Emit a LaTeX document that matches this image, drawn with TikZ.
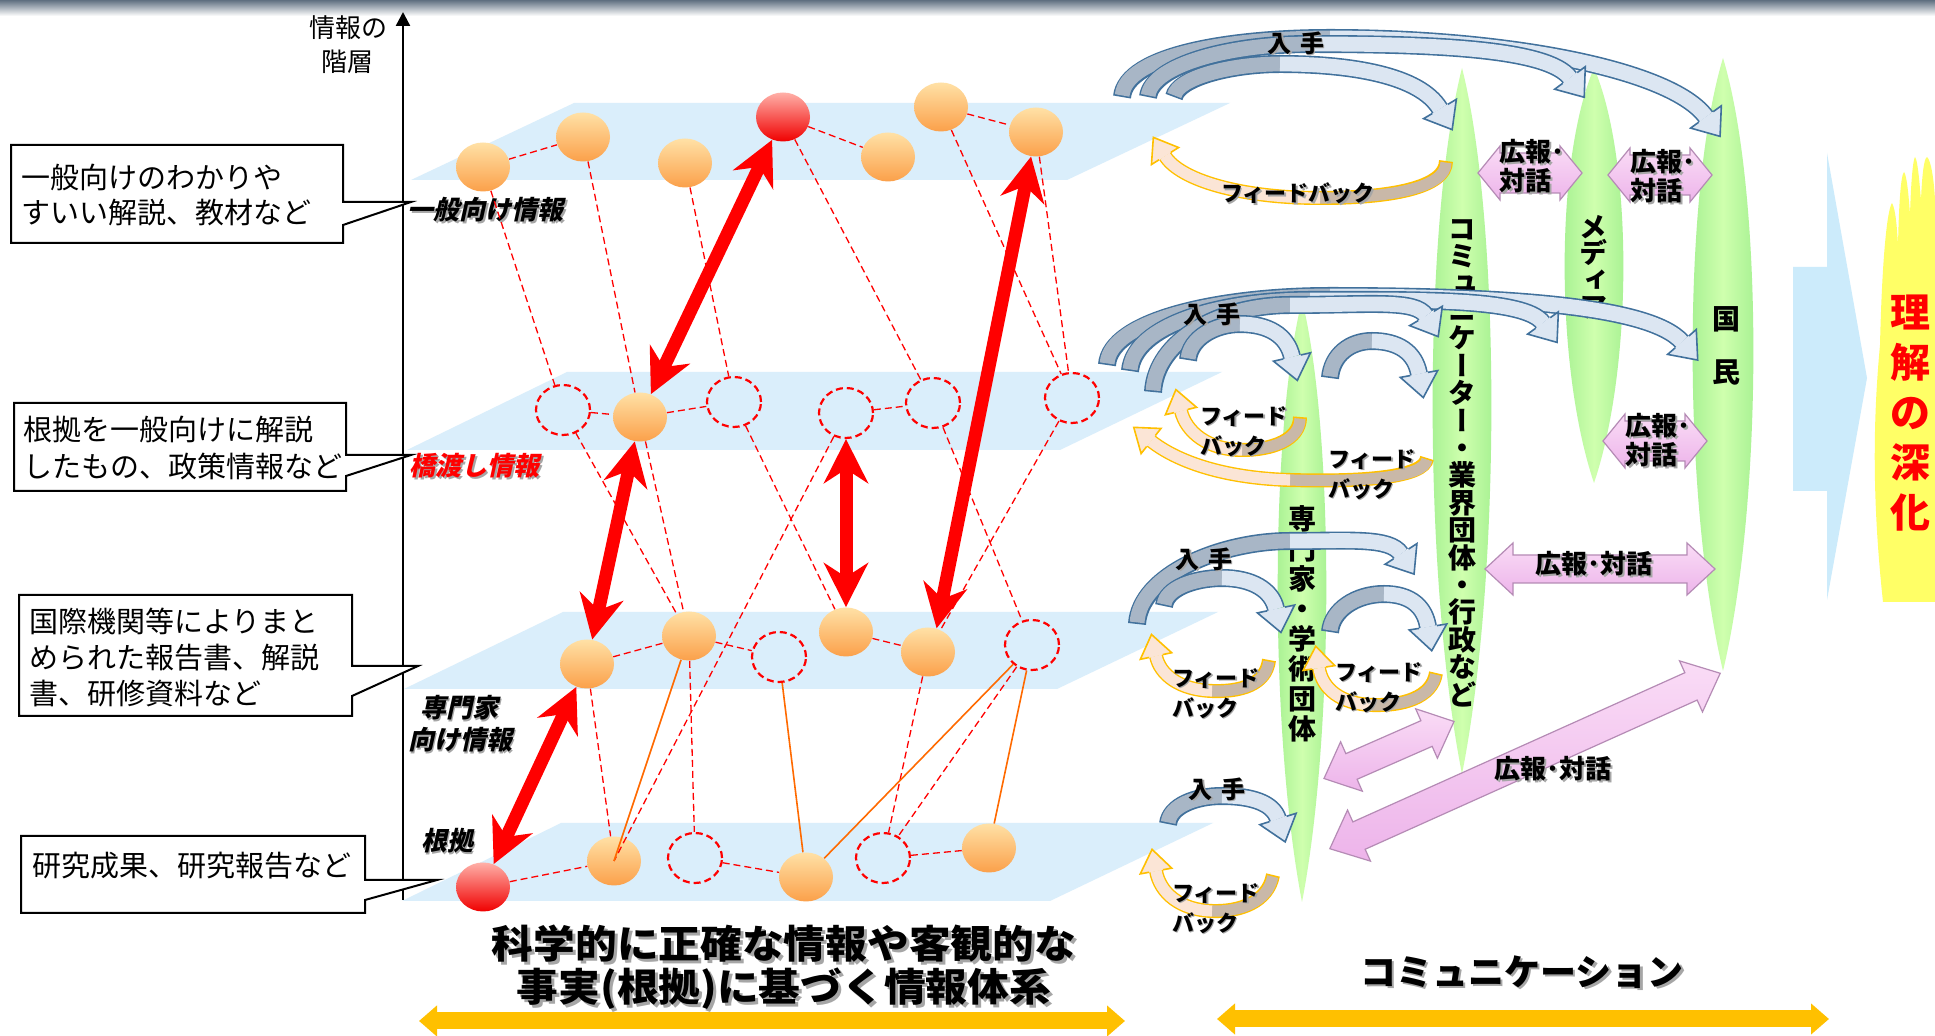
\documentclass[tikz,border=0pt]{standalone}
\usepackage{graphicx}
\usepackage{fontspec}
\setmainfont{Noto Sans CJK JP}
\newfontfamily\jpv[RawFeature=+vert]{Noto Sans CJK JP}
\newfontfamily\jpsl[FakeSlant=0.22]{Noto Sans CJK JP}
\usetikzlibrary{shapes.geometric,arrows.meta,decorations.markings}

\definecolor{topbar}{HTML}{5F6F80}
\definecolor{planeb}{HTML}{DAEEFB}
\definecolor{sphT}{HTML}{FFE1A6}
\definecolor{sphB}{HTML}{FBA04A}
\definecolor{rsphT}{HTML}{FFB0A8}
\definecolor{rsphB}{HTML}{F00000}
\definecolor{orl}{HTML}{FF6A00}
\definecolor{bline}{HTML}{41719C}
\definecolor{btail}{HTML}{A8B6C6}
\definecolor{bheadc}{HTML}{DCE6F2}
\definecolor{fline}{HTML}{FFC000}
\definecolor{ftail}{HTML}{C9B8A8}
\definecolor{fheadc}{HTML}{FBE5D6}
\definecolor{leafg}{HTML}{9EEE8C}
\definecolor{leafl}{HTML}{CFFFAE}
\definecolor{pinkT}{HTML}{FADCF6}
\definecolor{pinkB}{HTML}{EDB4EA}
\definecolor{pinkl}{HTML}{B58BB5}
\definecolor{bigb}{HTML}{CCEBFB}
\definecolor{flame}{HTML}{FFFF66}
\definecolor{gold}{HTML}{FFC000}

\newcommand\shd[1]{\leavevmode\rlap{\kern0.07em\raisebox{-0.07em}{\color{black!35}#1}}#1}
\newcommand\tightl{\lineskiplimit=-100pt\relax}

\newcommand\bhd{\fill[bheadc] (0,-19) -- (24,0) -- (0,19) -- cycle;
  \draw[bline, line width=0.8pt, line join=miter] (0,-9) -- (0,-19) -- (24,0) -- (0,19) -- (0,9);}
\newcommand\fhd{\fill[fheadc] (0,-16) -- (22,0) -- (0,16) -- cycle;
  \draw[fline, line width=0.8pt, line join=miter] (0,-7) -- (0,-16) -- (22,0) -- (0,16) -- (0,7);}

\newcommand\carr[8]{%
  \draw[#1outer, postaction={decorate, decoration={markings, mark=at position 0.9999 with {\csname #1hd\endcsname}}}] #2 .. controls #3 and #4 .. #5 .. controls #6 and #7 .. #8;
  \draw[#1inA, shorten <=0.8pt] #2 .. controls #3 and #4 .. #5;
  \draw[#1inB] #5 .. controls #6 and #7 .. #8;
}

\newcommand\leaf[4]{%
  \shade[left color=leafg, right color=leafg, middle color=leafl] (#1,#2) .. controls (#1+1.35*#4,#2+0.22*#3-0.22*#2) and (#1+1.35*#4,#3-0.28*#3+0.28*#2) .. (#1,#3) .. controls (#1-1.35*#4,#3-0.28*#3+0.28*#2) and (#1-1.35*#4,#2+0.22*#3-0.22*#2) .. cycle;}

\newcommand\dbl[6]{%
  \begin{scope}[shift={#1}, rotate=#2]
  \draw[pinkarr] (-#3,0) -- (-#3+#6,#5) -- (-#3+#6,#4) -- (#3-#6,#4) -- (#3-#6,#5) -- (#3,0) -- (#3-#6,-#5) -- (#3-#6,-#4) -- (-#3+#6,-#4) -- (-#3+#6,-#5) -- cycle;
  \end{scope}}

\tikzset{
  sph/.style={ellipse, minimum width=27pt, minimum height=24.5pt, inner sep=0pt, top color=sphT, bottom color=sphB},
  rsph/.style={ellipse, minimum width=27pt, minimum height=24.5pt, inner sep=0pt, top color=rsphT, bottom color=rsphB},
  dcir/.style={ellipse, minimum width=27pt, minimum height=25pt, inner sep=0pt, draw=red, line width=1.1pt, dash pattern=on 3.5pt off 2pt},
  dl/.style={draw=red, line width=0.65pt, dash pattern=on 3.5pt off 2pt},
  ol/.style={draw=orl, line width=0.8pt},
  bigr/.style={draw=red, line width=6.5pt, {Stealth[length=22pt,width=22pt,inset=7pt]}-{Stealth[length=22pt,width=22pt,inset=7pt]}},
  calloutbox/.style={draw=black, line width=1pt, fill=white, line join=miter},
  ctext/.style={anchor=west, inner sep=0pt, font=\fontsize{14.5pt}{17pt}\selectfont},
  lvl/.style={inner sep=0pt, font=\jpsl\bfseries\fontsize{13pt}{16pt}\selectfont},
  bouter/.style={draw=bline, line width=9pt},
  binA/.style={draw=btail, line width=7.4pt},
  binB/.style={draw=bheadc, line width=7.4pt},
  fouter/.style={draw=fline, line width=7pt},
  finA/.style={draw=ftail, line width=5.6pt},
  finB/.style={draw=fheadc, line width=5.6pt},
  pinkarr/.style={top color=pinkT, bottom color=pinkB, draw=pinkl, line width=0.6pt},
  rlab/.style={inner sep=0pt, font=\bfseries\fontsize{12pt}{14pt}\selectfont},
  fbl/.style={inner sep=0pt, align=left, anchor=west, font=\bfseries\fontsize{11pt}{15pt}\selectfont},
  pkl/.style={inner sep=0pt, align=left, anchor=west, font=\bfseries\fontsize{13pt}{14.5pt}\selectfont},
  vt/.style={inner sep=0pt, align=center},
  bt/.style={inner sep=0pt, font=\bfseries\fontsize{19.5pt}{22pt}\selectfont},
}

\begin{document}
\begin{tikzpicture}[x=0.5pt,y=-0.5pt]
\useasboundingbox (0,0) rectangle (1935,1036);
\fill[white] (0,0) rectangle (1935,1036);
\shade[top color=topbar, bottom color=white] (0,0) rectangle (1935,16);

% planes
\fill[planeb] (574,103) -- (1230,103) -- (1067,180) -- (411,180) -- cycle;
\fill[planeb] (567,372) -- (1222,372) -- (1060,450) -- (407,450) -- cycle;
\fill[planeb] (563,612) -- (1218,612) -- (1057,689) -- (404,689) -- cycle;
\fill[planeb] (561,823) -- (1213,823) -- (1050,901) -- (402,901) -- cycle;

% axis
\coordinate (axb) at (403,900);
\coordinate (axt) at (403,12);
\draw[line width=1.2pt, -{Triangle[length=7pt,width=7pt]}] (axb) -- (axt);
\node[inner sep=0pt, font=\fontsize{13pt}{16pt}\selectfont] (axl1) at (348,28) {情報の};
\node[inner sep=0pt, font=\fontsize{13pt}{16pt}\selectfont] (axl2) at (347,62) {階層};

% callouts
\draw[calloutbox] (11,145) -- (343,145) -- (343,202) -- (411,202) -- (343,225) -- (343,243) -- (11,243) -- cycle;
\draw[calloutbox] (14,403) -- (346,403) -- (346,455) -- (411,455) -- (346,476) -- (346,491) -- (14,491) -- cycle;
\draw[calloutbox] (19,595) -- (352,595) -- (352,666) -- (418,666) -- (352,696) -- (352,716) -- (19,716) -- cycle;
\draw[calloutbox] (21,836) -- (365,836) -- (365,880) -- (437,880) -- (365,900) -- (365,913) -- (21,913) -- cycle;
\node[ctext] (c1a) at (21,177) {一般向けのわかりや};
\node[ctext] (c1b) at (21,213) {すいい解説、教材など};
\node[ctext] (c2a) at (23,430) {根拠を一般向けに解説};
\node[ctext] (c2b) at (23,466) {したもの、政策情報など};
\node[ctext] (c3a) at (29,621) {国際機関等によりまと};
\node[ctext] (c3b) at (29,658) {められた報告書、解説};
\node[ctext] (c3c) at (29,694) {書、研修資料など};
\node[ctext] (c4a) at (32,866) {研究成果、研究報告など};

% level labels
\node[lvl, anchor=west] (lv1) at (407,211) {\shd{一般向け情報}};
\node[lvl, anchor=west, text=red] (lv2) at (409,467) {\shd{橋渡し情報}};
\node[lvl] (lv3a) at (459,709) {\shd{専門家}};
\node[lvl] (lv3b) at (460,741) {\shd{向け情報}};
\node[lvl] (lv4) at (447,842) {\shd{根拠}};

% nodes
\node[sph] (A1) at (483,167) {};
\node[sph] (A2) at (583,137) {};
\node[sph] (A3) at (685,163) {};
\node[rsph] (A4) at (783,117) {};
\node[sph] (A5) at (888,157) {};
\node[sph] (A6) at (941,107) {};
\node[sph] (A7) at (1036,132) {};
\node[dcir] (B1) at (563,410) {};
\node[sph] (B2) at (640,417) {};
\node[dcir] (B3) at (734,402) {};
\node[dcir] (B4) at (846,413) {};
\node[dcir] (B5) at (933,403) {};
\node[dcir] (B6) at (1072,398) {};
\node[sph] (C1) at (587,664) {};
\node[sph] (C2) at (689,636) {};
\node[dcir] (C3) at (779,657) {};
\node[sph] (C4) at (846,632) {};
\node[sph] (C5) at (928,652) {};
\node[dcir] (C6) at (1032,645) {};
\node[rsph] (D1) at (483,887) {};
\node[sph] (D2) at (614,861) {};
\node[dcir] (D3) at (695,858) {};
\node[sph] (D4) at (806,877) {};
\node[dcir] (D5) at (883,858) {};
\node[sph] (D6) at (989,848) {};

% dashed connectors
\draw[dl] (A1) -- (A2);
\draw[dl] (A4) -- (A5);
\draw[dl] (A6) -- (A7);
\draw[dl] (A1) -- (B1);
\draw[dl] (A2) -- (B2);
\draw[dl] (A3) -- (B3);
\draw[dl] (A4) -- (B5);
\draw[dl] (A6) -- (B6);
\draw[dl] (A7) -- (B6);
\draw[dl] (B1) -- (B2);
\draw[dl] (B2) -- (B3);
\draw[dl] (B4) -- (B5);
\draw[dl] (B1) -- (C2);
\draw[dl] (B2) -- (C2);
\draw[dl] (B3) -- (C4);
\draw[dl] (B4) -- (D2.center);
\draw[dl] (B5) -- (C6);
\draw[dl] (B6) -- (C5);
\draw[dl] (C1) -- (C2);
\draw[dl] (C2) -- (C3);
\draw[dl] (C4) -- (C5);
\draw[dl] (C1) -- (D2);
\draw[dl] (C2) -- (D3);
\draw[dl] (C6) -- (D5);
\draw[dl] (C5) -- (D5);
\draw[dl] (D1) -- (D2);
\draw[dl] (D3) -- (D4);
\draw[dl] (D5) -- (D6);
\draw[ol] (C2) -- (D2.center);
\draw[ol] (C3) -- (D4);
\draw[ol] (D4) -- (C6);
\draw[ol] (C6) -- (D6);

% red arrows
\draw[bigr] (A4) -- (B2);
\draw[bigr] (B2) -- (C1);
\draw[bigr] (B4) -- (C4);
\draw[bigr] (A7) -- (C5.70);
\draw[bigr] (C1) -- (D1);

% right: big arrow and flame
\fill[bigb] (1793,267) -- (1827,267) -- (1827,153) -- (1867,378) -- (1827,600) -- (1827,491) -- (1793,491) -- cycle;
\fill[flame] (1883,602) .. controls (1872,500) and (1873,420) .. (1880,345) .. controls (1882,260) and (1887,210) .. (1892,203) .. controls (1896,210) and (1897,230) .. (1898,245) .. controls (1899,200) and (1901,175) .. (1904,172) .. controls (1907,175) and (1909,200) .. (1910,215) .. controls (1911,180) and (1913,160) .. (1915,157) .. controls (1918,160) and (1920,190) .. (1921,200) .. controls (1922,175) and (1924,158) .. (1927,157) .. controls (1931,160) and (1934,180) .. (1935,200) -- (1935,602) -- cycle;
\node[vt, text=red, font=\bfseries\fontsize{20pt}{25pt}\selectfont\tightl] (rk) at (1910,413) {理\\解\\の\\深\\化};

% leaves
\leaf{1462}{68}{774}{29}
\leaf{1594}{68}{483}{29}
\leaf{1723}{58}{671}{30}
\leaf{1302}{300}{902}{24}
\node[vt, font=\jpv\bfseries\fontsize{14pt}{13.7pt}\selectfont\tightl] (vcom) at (1462,463) {コ\\ミ\\ュ\\ニ\\ケ\\ー\\タ\\ー\\・\\業\\界\\団\\体\\・\\行\\政\\な\\ど};
\node[vt, font=\jpv\bfseries\fontsize{14pt}{13.35pt}\selectfont\tightl] (vmed) at (1593,267) {メ\\デ\\ィ\\ア};
\node[vt, font=\jpv\bfseries\fontsize{14pt}{26.5pt}\selectfont\tightl] (vkok) at (1726,346) {国\\民};
\node[vt, font=\jpv\bfseries\fontsize{14pt}{15pt}\selectfont\tightl] (vexp) at (1302,624) {専\\門\\家\\・\\学\\術\\団\\体};

% blue acquisition arrows
\carr{b}{(1122,97)}{(1126,55)}{(1230,38)}{(1330,38)}{(1510,38)}{(1672,70)}{(1706,117)}
\carr{b}{(1148,97)}{(1152,65)}{(1230,44)}{(1310,44)}{(1430,44)}{(1548,48)}{(1570,78)}
\carr{b}{(1174,97)}{(1178,78)}{(1230,64)}{(1280,64)}{(1350,64)}{(1420,75)}{(1440,109)}
\carr{b}{(1107,365)}{(1110,320)}{(1220,296)}{(1330,296)}{(1500,296)}{(1650,305)}{(1682,342)}
\carr{b}{(1130,371)}{(1134,325)}{(1220,300)}{(1310,300)}{(1420,300)}{(1525,298)}{(1543,323)}
\carr{b}{(1153,392)}{(1156,340)}{(1220,305)}{(1290,305)}{(1370,305)}{(1416,299)}{(1426,316)}
\carr{b}{(1188,360)}{(1190,338)}{(1215,324)}{(1240,324)}{(1268,324)}{(1287,335)}{(1292,357)}
\carr{b}{(1330,378)}{(1332,355)}{(1350,341)}{(1372,341)}{(1398,341)}{(1415,352)}{(1419,374)}
\carr{b}{(1137,624)}{(1140,575)}{(1220,541)}{(1290,541)}{(1350,541)}{(1390,537)}{(1401,554)}
\carr{b}{(1164,606)}{(1166,588)}{(1195,578)}{(1222,578)}{(1252,578)}{(1272,590)}{(1276,609)}
\carr{b}{(1330,632)}{(1332,610)}{(1356,594)}{(1384,594)}{(1412,594)}{(1425,608)}{(1428,627)}
\carr{b}{(1168,824)}{(1170,806)}{(1195,796)}{(1222,796)}{(1252,796)}{(1273,803)}{(1278,819)}

% feedback arrows
\carr{f}{(1446,161)}{(1446,188)}{(1390,198)}{(1320,198)}{(1240,198)}{(1180,180)}{(1165,156)}
\carr{f}{(1300,417)}{(1300,440)}{(1272,450)}{(1242,450)}{(1208,450)}{(1186,432)}{(1181,411)}
\carr{f}{(1427,458)}{(1425,478)}{(1360,482)}{(1290,480)}{(1220,478)}{(1175,460)}{(1151,441)}
\carr{f}{(1269,660)}{(1266,685)}{(1240,692)}{(1212,691)}{(1180,690)}{(1160,675)}{(1156,656)}
\carr{f}{(1436,673)}{(1432,698)}{(1402,706)}{(1372,705)}{(1340,704)}{(1322,688)}{(1319,668)}
\carr{f}{(1273,875)}{(1268,902)}{(1240,912)}{(1212,911)}{(1180,910)}{(1160,893)}{(1156,871)}

% labels right
\node[rlab] (in1) at (1296,44) {\shd{入\hspace{0.35em}手}};
\node[rlab] (in2) at (1212,315) {\shd{入\hspace{0.35em}手}};
\node[rlab] (in3) at (1204,560) {\shd{入\hspace{0.35em}手}};
\node[rlab] (in4) at (1217,790) {\shd{入\hspace{0.35em}手}};
\node[rlab, font=\bfseries\fontsize{11pt}{14pt}\selectfont] (fb1) at (1298,194) {\shd{フィードバック}};
\node[fbl] (fb2) at (1200,432) {\shd{フィード}\\\shd{バック}};
\node[fbl] (fb3) at (1328,475) {\shd{フィード}\\\shd{バック}};
\node[fbl] (fb4) at (1172,694) {\shd{フィード}\\\shd{バック}};
\node[fbl] (fb5) at (1335,688) {\shd{フィード}\\\shd{バック}};
\node[fbl] (fb6) at (1172,909) {\shd{フィード}\\\shd{バック}};

% pink double arrows
\dbl{(1530,173)}{0}{52}{20}{27}{22}
\dbl{(1660,175)}{0}{52}{20}{27}{22}
\dbl{(1655,441)}{0}{52}{20}{27}{22}
\dbl{(1600,569)}{0}{115}{14}{26}{28}
\dbl{(1389,750)}{23.7}{71}{14}{27}{30}
\dbl{(1525,761)}{24.2}{214}{15}{28}{32}
\node[pkl] (pk1) at (1499,167) {\shd{広報･}\\\shd{対話}};
\node[pkl] (pk2) at (1630,177) {\shd{広報･}\\\shd{対話}};
\node[pkl] (pk3) at (1625,441) {\shd{広報･}\\\shd{対話}};
\node[rlab, font=\bfseries\fontsize{13pt}{14pt}\selectfont] (pk4) at (1594,565) {\shd{広報･対話}};
\node[rlab, font=\bfseries\fontsize{13pt}{14pt}\selectfont] (pk6) at (1553,770) {\shd{広報･対話}};

% bottom texts and arrows
\node[bt] (bt1) at (784,945) {\scalebox{1.07}[1]{\shd{科学的に正確な情報や客観的な}}};
\node[bt] (bt2) at (784,990) {\scalebox{1.07}[1]{\shd{事実(根拠)に基づく情報体系}}};
\node[inner sep=0pt, font=\bfseries\fontsize{18pt}{20pt}\selectfont] (bt3) at (1522,973) {\shd{コミュニケーション}};
\coordinate (la1) at (419,1021);
\coordinate (la2) at (1125,1021);
\coordinate (ra1) at (1217,1019);
\coordinate (ra2) at (1829,1019);
\draw[gold, line width=8.5pt, {Triangle[length=9pt,width=15pt]}-{Triangle[length=9pt,width=15pt]}] (la1) -- (la2);
\draw[gold, line width=8.5pt, {Triangle[length=9pt,width=15pt]}-{Triangle[length=9pt,width=15pt]}] (ra1) -- (ra2);
\end{tikzpicture}
\end{document}
